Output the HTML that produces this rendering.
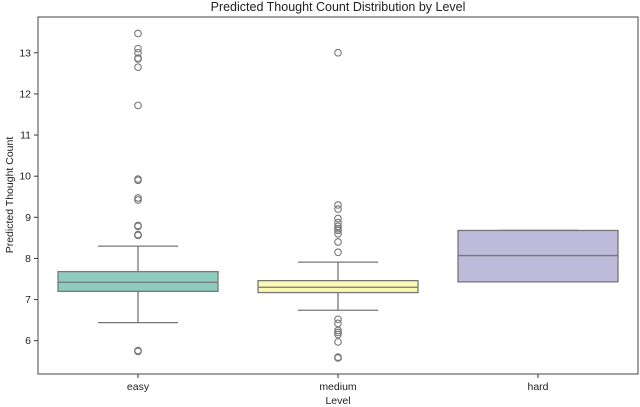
<!DOCTYPE html>
<html><head><meta charset="utf-8">
<style>
html,body{margin:0;padding:0;background:#fff;}
svg{display:block;font-family:"Liberation Sans","DejaVu Sans",sans-serif;}
</style></head>
<body>
<svg id="chart" width="640" height="407" viewBox="0 0 640 407">
<text x="338" y="11" text-anchor="middle" font-size="12.5" fill="#222">Predicted Thought Count Distribution by Level</text>
<g id="plot"></g>
<text x="338" y="404" text-anchor="middle" font-size="10.5" fill="#222">Level</text>
<text transform="translate(13,195) rotate(-90)" text-anchor="middle" font-size="10.5" fill="#222">Predicted Thought Count</text>
</svg>
<script>
const categories = ["easy","medium","hard"];
const colors = ["#8dcdc0","#fbf9b2","#bebad9"];
const q1 = [7.2, 7.17, 7.43];
const medians = [7.42, 7.3, 8.07];
const q3 = [7.68, 7.46, 8.68];
const whiskLow = [6.44, 6.74, 7.43];
const whiskHigh = [8.3, 7.91, 8.68];
const outliersEasy = [13.47,13.1,13.0,12.87,12.85,12.65,11.72,9.93,9.9,9.47,9.42,8.8,8.78,8.58,8.56,5.76,5.74];
const outliersMedium = [13.0,9.3,9.2,8.97,8.87,8.78,8.72,8.68,8.6,8.4,8.15,6.52,6.42,6.25,6.2,6.15,5.97,5.6,5.58];
const outliersHard = [];
const yTicks = [6,7,8,9,10,11,12,13];

const NS="http://www.w3.org/2000/svg";
const L=38,R=638,T=17,B=374;
const yMin=5.19,yMax=13.87;
const y=v=>B-(v-yMin)/(yMax-yMin)*(B-T);
const band=(R-L)/categories.length;
const x=i=>L+band*(i+0.5);
const bw=band*0.8;
const g=document.getElementById('plot');
function mk(tag,attrs){const e=document.createElementNS(NS,tag);for(const k in attrs)e.setAttribute(k,attrs[k]);g.appendChild(e);return e;}

yTicks.forEach(t=>{
  const tk=mk('line',{x1:L-4,x2:L,y1:y(t),y2:y(t),stroke:'#333','stroke-width':1});
  
  
  const tx=mk('text',{x:L-7,y:y(t)+3.5,'text-anchor':'end','font-size':'10.5',fill:'#222'});
  tx.textContent=t;
  
  
});
const outs=[outliersEasy,outliersMedium,outliersHard];
categories.forEach((c,i)=>{
  const cx=x(i);
  const w1=mk('line',{x1:cx,x2:cx,y1:y(whiskLow[i]),y2:y(q1[i]),stroke:'#777','stroke-width':1.3});
  
  
  const w2=mk('line',{x1:cx,x2:cx,y1:y(q3[i]),y2:y(whiskHigh[i]),stroke:'#777','stroke-width':1.3});
  
  
  const c1=mk('line',{x1:cx-bw/4,x2:cx+bw/4,y1:y(whiskLow[i]),y2:y(whiskLow[i]),stroke:'#777','stroke-width':1.3});
  
  
  const c2=mk('line',{x1:cx-bw/4,x2:cx+bw/4,y1:y(whiskHigh[i]),y2:y(whiskHigh[i]),stroke:'#777','stroke-width':1.3});
  
  
  const bx=mk('rect',{x:cx-bw/2,y:y(q3[i]),width:bw,height:y(q1[i])-y(q3[i]),fill:colors[i],stroke:'#777','stroke-width':1.3});
  
  
  const md=mk('line',{x1:cx-bw/2,x2:cx+bw/2,y1:y(medians[i]),y2:y(medians[i]),stroke:'#777','stroke-width':1.3});
  
  
  outs[i].forEach(v=>{
    const o=mk('circle',{cx:cx,cy:y(v),r:3.3,fill:'none',stroke:'#777','stroke-width':1.1});
    
    
  });
  const tk=mk('line',{x1:cx,x2:cx,y1:B,y2:B+4,stroke:'#333','stroke-width':1});
  
  
  const tx=mk('text',{x:cx,y:B+16,'text-anchor':'middle','font-size':'10.5',fill:'#222'});
  tx.textContent=c;
  
  
});
const fr=mk('rect',{x:L,y:T,width:R-L,height:B-T,fill:'none',stroke:'#444','stroke-width':1});


</script>
</body></html>
